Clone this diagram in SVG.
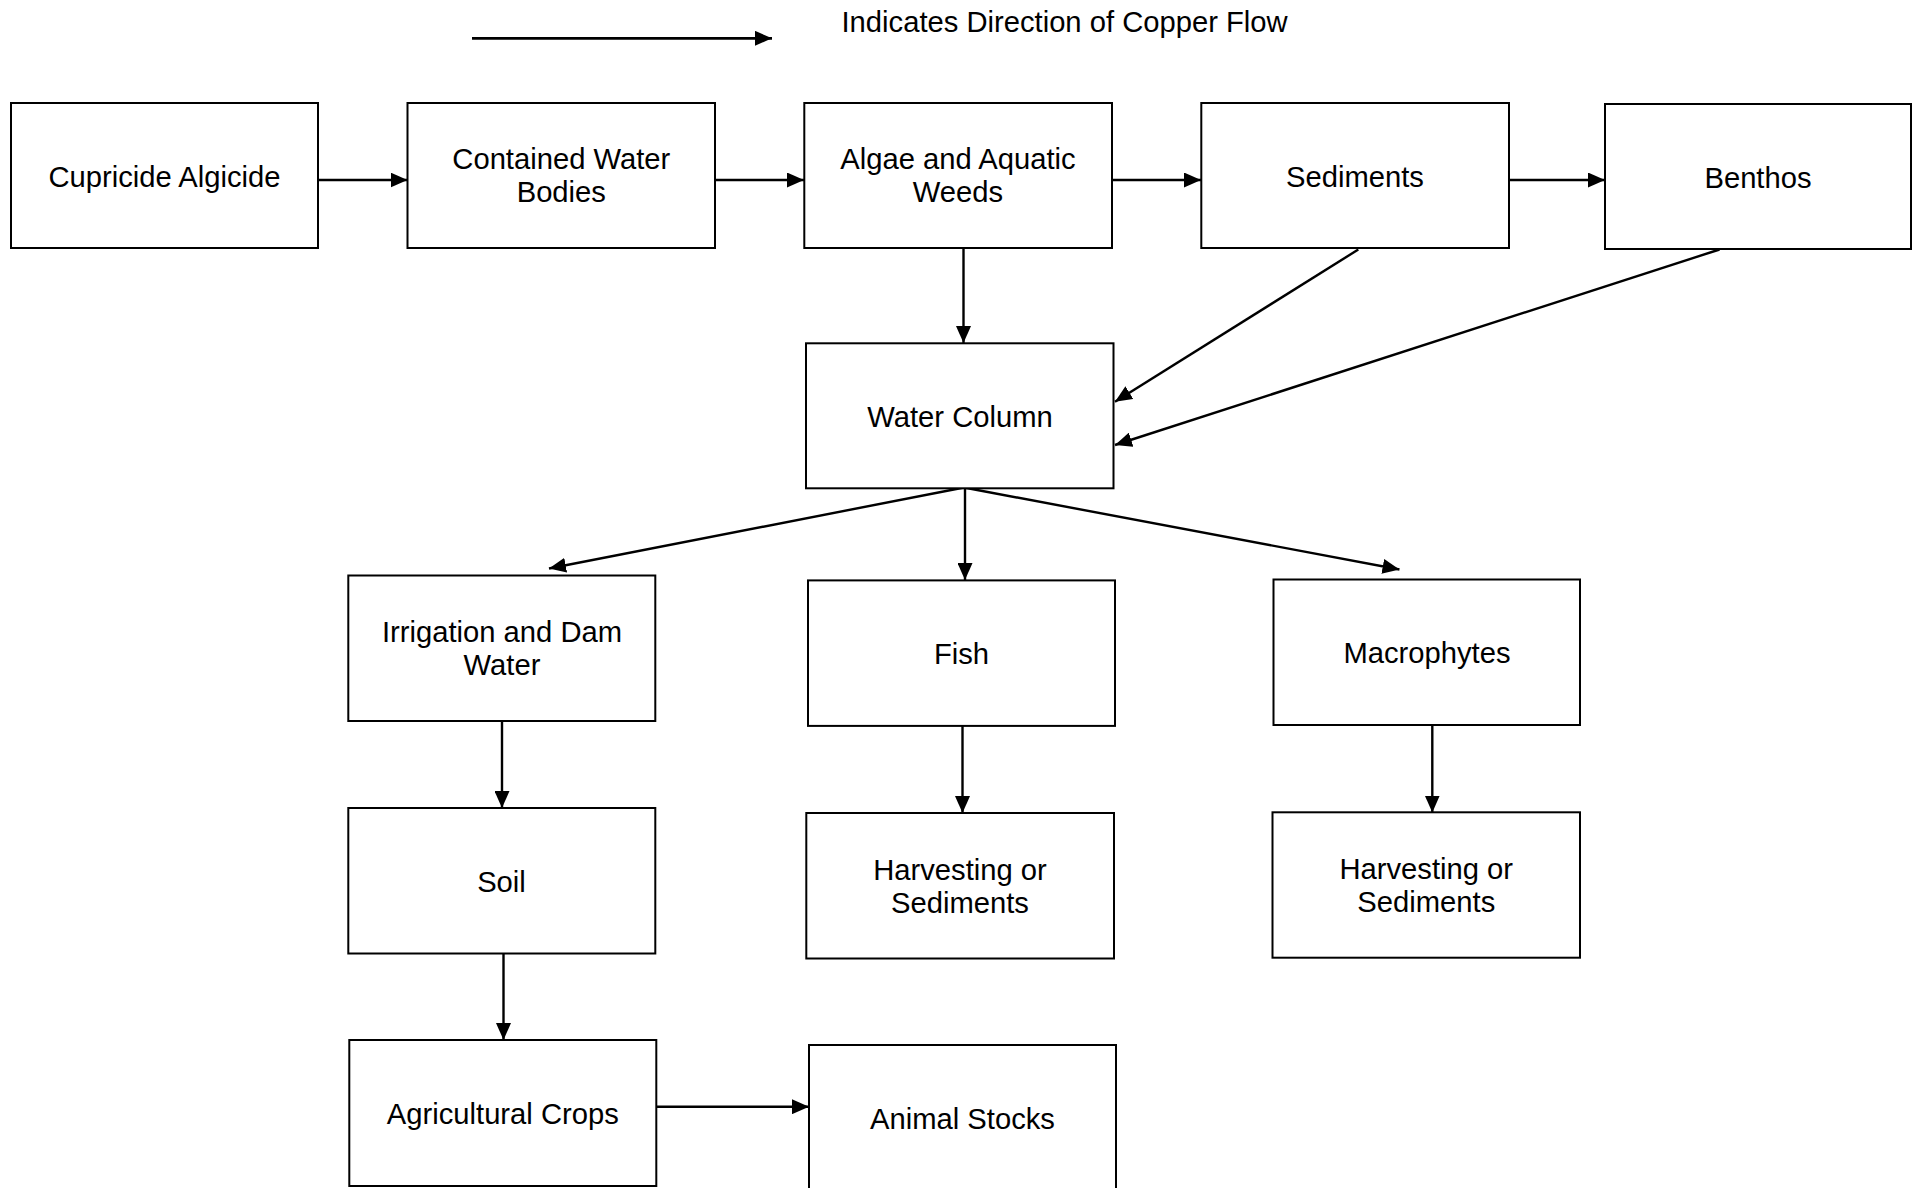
<svg xmlns="http://www.w3.org/2000/svg" width="1916" height="1188" viewBox="0 0 1916 1188">
<style>
  .box { fill: #ffffff; stroke: #000000; stroke-width: 2; }
  .lbl { font-family: "Liberation Sans", Arial, sans-serif; font-size: 29.2px; fill: #000000; text-anchor: middle; }
  .legend { font-family: "Liberation Sans", Arial, sans-serif; font-size: 29.2px; fill: #000000; }
  .conn { stroke: #000000; stroke-width: 2.4; fill: none; marker-end: url(#arrow); }
</style>
<defs>
  <marker id="arrow" markerUnits="userSpaceOnUse" markerWidth="17" markerHeight="15" refX="17" refY="7.5" orient="auto">
    <path d="M0,0 L17,7.5 L0,15 z" fill="#000000"/>
  </marker>
</defs>
<rect width="1916" height="1188" fill="#ffffff"/>

<g id="legend">
  <line class="conn" x1="472" y1="38.3" x2="772" y2="38.3" style="stroke-width:2.8"/>
  <text class="legend" x="841.5" y="32.3">Indicates Direction of Copper Flow</text>
</g>

<g id="connectors">
  <line class="conn" x1="318" y1="180" x2="407.5" y2="180"/>
  <line class="conn" x1="715" y1="180" x2="804" y2="180"/>
  <line class="conn" x1="1112" y1="180" x2="1201" y2="180"/>
  <line class="conn" x1="1509" y1="180" x2="1605" y2="180"/>
  <line class="conn" x1="963.5" y1="248" x2="963.5" y2="343"/>
  <line class="conn" x1="1358.3" y1="249.5" x2="1115" y2="401.7"/>
  <line class="conn" x1="1719.5" y1="249.5" x2="1115" y2="445"/>
  <line class="conn" x1="964" y1="487.5" x2="549" y2="568.5"/>
  <line class="conn" x1="965" y1="487.5" x2="965" y2="580"/>
  <line class="conn" x1="964" y1="487.5" x2="1399.5" y2="569.5"/>
  <line class="conn" x1="502" y1="721" x2="502" y2="808"/>
  <line class="conn" x1="503.5" y1="953.5" x2="503.5" y2="1040"/>
  <line class="conn" x1="656" y1="1106.7" x2="809" y2="1106.7"/>
  <line class="conn" x1="962.5" y1="726" x2="962.5" y2="813"/>
  <line class="conn" x1="1432.3" y1="725" x2="1432.3" y2="812.5"/>
</g>

<g id="node-cupricide">
  <rect class="box" x="11" y="103" width="307" height="145"/>
  <text class="lbl" x="164.5" y="186.5">Cupricide Algicide</text>
</g>
<g id="node-contained">
  <rect class="box" x="407.5" y="103" width="307.5" height="145"/>
  <text class="lbl" x="561.3" y="169">Contained Water</text>
  <text class="lbl" x="561.3" y="202.3">Bodies</text>
</g>
<g id="node-algae">
  <rect class="box" x="804.3" y="103" width="307.7" height="145"/>
  <text class="lbl" x="958" y="169">Algae and Aquatic</text>
  <text class="lbl" x="958" y="202.3">Weeds</text>
</g>
<g id="node-sediments">
  <rect class="box" x="1201.3" y="103" width="307.7" height="145"/>
  <text class="lbl" x="1355" y="186.5">Sediments</text>
</g>
<g id="node-benthos">
  <rect class="box" x="1605" y="104" width="306" height="145"/>
  <text class="lbl" x="1758" y="187.5">Benthos</text>
</g>
<g id="node-water-column">
  <rect class="box" x="806" y="343.3" width="307.5" height="145"/>
  <text class="lbl" x="960" y="426.5">Water Column</text>
</g>
<g id="node-irrigation">
  <rect class="box" x="348.3" y="575.5" width="307" height="145.5"/>
  <text class="lbl" x="502" y="641.8">Irrigation and Dam</text>
  <text class="lbl" x="502" y="675.1">Water</text>
</g>
<g id="node-fish">
  <rect class="box" x="808" y="580.4" width="307" height="145.5"/>
  <text class="lbl" x="961.5" y="663.5">Fish</text>
</g>
<g id="node-macrophytes">
  <rect class="box" x="1273.5" y="579.5" width="306.5" height="145.5"/>
  <text class="lbl" x="1427" y="662.5">Macrophytes</text>
</g>
<g id="node-soil">
  <rect class="box" x="348.3" y="808" width="307" height="145.5"/>
  <text class="lbl" x="501.5" y="891.5">Soil</text>
</g>
<g id="node-harvesting-1">
  <rect class="box" x="806.3" y="813" width="307.7" height="145.5"/>
  <text class="lbl" x="960" y="879.5">Harvesting or</text>
  <text class="lbl" x="960" y="912.8">Sediments</text>
</g>
<g id="node-harvesting-2">
  <rect class="box" x="1272.5" y="812.3" width="307.5" height="145.4"/>
  <text class="lbl" x="1426.3" y="879">Harvesting or</text>
  <text class="lbl" x="1426.3" y="912.3">Sediments</text>
</g>
<g id="node-agricultural">
  <rect class="box" x="349.3" y="1040" width="307" height="146"/>
  <text class="lbl" x="502.8" y="1123.5">Agricultural Crops</text>
</g>
<g id="node-animal">
  <rect class="box" x="809" y="1045" width="307" height="146"/>
  <text class="lbl" x="962.5" y="1128.5">Animal Stocks</text>
</g>
</svg>
